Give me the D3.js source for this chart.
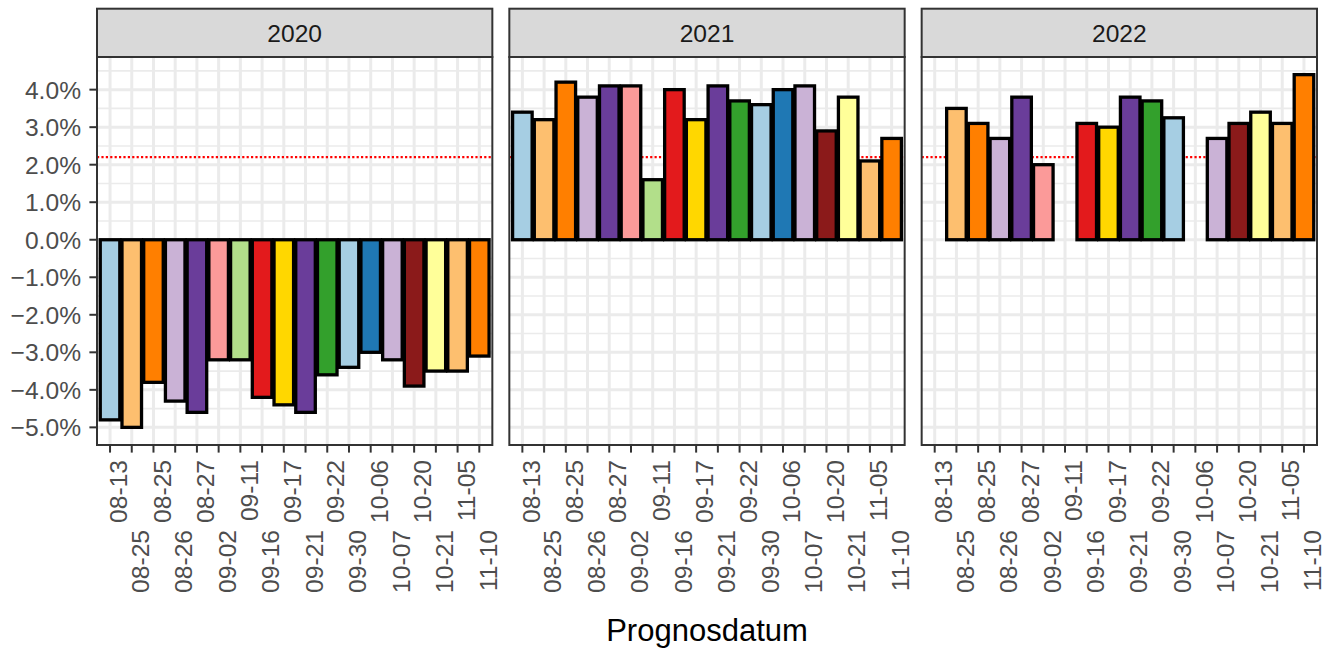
<!DOCTYPE html>
<html>
<head>
<meta charset="utf-8">
<script src="https://cdn.jsdelivr.net/npm/d3@7"></script>
<style>
  body { margin: 0; background: #fff; }
  text { font-family: "Liberation Sans", Arial, sans-serif; }
</style>
</head>
<body>
<svg width="1325" height="648"></svg>
<script>
// tick labels (forecast dates), one per bar position
var categories = ["08-13", "08-25", "08-25", "08-26", "08-27", "09-02", "09-11", "09-16", "09-17",
                  "09-21", "09-22", "09-30", "10-06", "10-07", "10-20", "10-21", "11-05", "11-10"];

var years = ["2020", "2021", "2022"];

// percent values per panel (null = no bar)
var values2020 = [-4.8, -5.0, -3.8, -4.3, -4.6, -3.2, -3.2, -4.2, -4.4, -4.6, -3.6, -3.4, -3.0, -3.2, -3.9, -3.5, -3.5, -3.1];
var values2021 = [3.4, 3.2, 4.2, 3.8, 4.1, 4.1, 1.6, 4.0, 3.2, 4.1, 3.7, 3.6, 4.0, 4.1, 2.9, 3.8, 2.1, 2.7];
var values2022 = [null, 3.5, 3.1, 2.7, 3.8, 2.0, null, 3.1, 3.0, 3.8, 3.7, 3.25, null, 2.7, 3.1, 3.4, 3.1, 4.4];

var fills = ["#A6CEE3", "#FDBF6F", "#FF7F00", "#CAB2D6", "#6A3D9A", "#FB9A99", "#B2DF8A", "#E31A1C", "#FFD700",
             "#6A3D9A", "#33A02C", "#A6CEE3", "#1F78B4", "#CAB2D6", "#8B1A1A", "#FFFF99", "#FDBF6F", "#FF7F00"];

var refLine = 2.2;
var yTicks = [-5, -4, -3, -2, -1, 0, 1, 2, 3, 4];
var yMinor = [-4.5, -3.5, -2.5, -1.5, -0.5, 0.5, 1.5, 2.5, 3.5, 4.5];

var panels = years.map(function(y, i) {
  return {year: y, values: [values2020, values2021, values2022][i]};
});

var svg = d3.select("svg"),
    left = 97, right = 1317, gap = 17,
    stripTop = 8.7, panelTop = 57, panelBottom = 445,
    pw = (right - left - 2 * gap) / 3,
    axisText = 24.6;

// shared y scale, ggplot style 5% expansion
var all = [];
panels.forEach(function(p) { p.values.forEach(function(v) { if (v != null) all.push(v); }); });
var ext = d3.extent(all), pad = (ext[1] - ext[0]) * 0.05;
var y = d3.scaleLinear().domain([ext[0] - pad, ext[1] + pad]).range([panelBottom, panelTop]);

var x = d3.scaleBand()
    .domain(d3.range(categories.length))
    .range([0, pw])
    .paddingInner(0.1)
    .paddingOuter(0.15);

panels.forEach(function(p, pi) {
  var g = svg.append("g").attr("transform", "translate(" + (left + pi * (pw + gap)) + ",0)");

  // strip
  g.append("rect")
      .attr("x", 0).attr("y", stripTop)
      .attr("width", pw).attr("height", panelTop - stripTop)
      .attr("fill", "#D9D9D9").attr("stroke", "#333333").attr("stroke-width", 2);
  g.append("text")
      .attr("x", pw / 2).attr("y", 41.7)
      .attr("text-anchor", "middle")
      .attr("fill", "#1A1A1A")
      .style("font-size", axisText + "px")
      .text(p.year);

  // panel background + grid
  g.append("rect")
      .attr("x", 0).attr("y", panelTop)
      .attr("width", pw).attr("height", panelBottom - panelTop)
      .attr("fill", "#fff");

  g.selectAll(".minor").data(yMinor).enter().append("line")
      .attr("x1", 0).attr("x2", pw)
      .attr("y1", d => y(d)).attr("y2", d => y(d))
      .attr("stroke", "#EBEBEB").attr("stroke-width", 1.6);
  g.selectAll(".hmajor").data(yTicks).enter().append("line")
      .attr("x1", 0).attr("x2", pw)
      .attr("y1", d => y(d)).attr("y2", d => y(d))
      .attr("stroke", "#EBEBEB").attr("stroke-width", 3);
  g.selectAll(".vmajor").data(d3.range(categories.length)).enter().append("line")
      .attr("x1", d => x(d) + x.bandwidth() / 2).attr("x2", d => x(d) + x.bandwidth() / 2)
      .attr("y1", panelTop).attr("y2", panelBottom)
      .attr("stroke", "#EBEBEB").attr("stroke-width", 3);

  // reference line
  g.append("line")
      .attr("x1", 0).attr("x2", pw)
      .attr("y1", y(refLine)).attr("y2", y(refLine))
      .attr("stroke", "red").attr("stroke-width", 2.2)
      .attr("stroke-dasharray", "2.2,2.2");

  // bars
  var bars = p.values.map(function(v, i) { return {i: i, v: v}; }).filter(d => d.v != null);
  g.selectAll(".bar").data(bars).enter().append("rect")
      .attr("x", d => x(d.i))
      .attr("width", x.bandwidth())
      .attr("y", d => y(Math.max(0, d.v)))
      .attr("height", d => Math.abs(y(d.v) - y(0)))
      .attr("fill", d => fills[d.i])
      .attr("stroke", "#000").attr("stroke-width", 3.3);

  // panel border
  g.append("rect")
      .attr("x", 0).attr("y", panelTop)
      .attr("width", pw).attr("height", panelBottom - panelTop)
      .attr("fill", "none").attr("stroke", "#333333").attr("stroke-width", 2);

  // x ticks and dodged labels
  g.selectAll(".xtick").data(d3.range(categories.length)).enter().append("line")
      .attr("x1", d => x(d) + x.bandwidth() / 2).attr("x2", d => x(d) + x.bandwidth() / 2)
      .attr("y1", panelBottom).attr("y2", panelBottom + 7.6)
      .attr("stroke", "#333333").attr("stroke-width", 2);
  g.selectAll(".xlab").data(d3.range(categories.length)).enter().append("text")
      .attr("transform", d => "translate(" + (x(d) + x.bandwidth() / 2) + "," + (d % 2 === 0 ? 460 : 530) + ") rotate(-90)")
      .attr("text-anchor", "end")
      .attr("dy", "0.7em")
      .attr("fill", "#4D4D4D")
      .style("font-size", axisText + "px")
      .text(d => categories[d]);

  // y axis only on first panel
  if (pi === 0) {
    g.selectAll(".ytick").data(yTicks).enter().append("line")
        .attr("x1", -7.6).attr("x2", 0)
        .attr("y1", d => y(d)).attr("y2", d => y(d))
        .attr("stroke", "#333333").attr("stroke-width", 2);
    g.selectAll(".ylab").data(yTicks).enter().append("text")
        .attr("x", -16).attr("y", d => y(d))
        .attr("dy", "0.36em")
        .attr("text-anchor", "end")
        .attr("fill", "#4D4D4D")
        .style("font-size", axisText + "px")
        .text(d => d3.format(".1f")(d) + "%");
  }
});

svg.append("text")
    .attr("x", (left + right) / 2).attr("y", 641)
    .attr("text-anchor", "middle")
    .attr("fill", "#000")
    .style("font-size", "31px")
    .text("Prognosdatum");
</script>
</body>
</html>
